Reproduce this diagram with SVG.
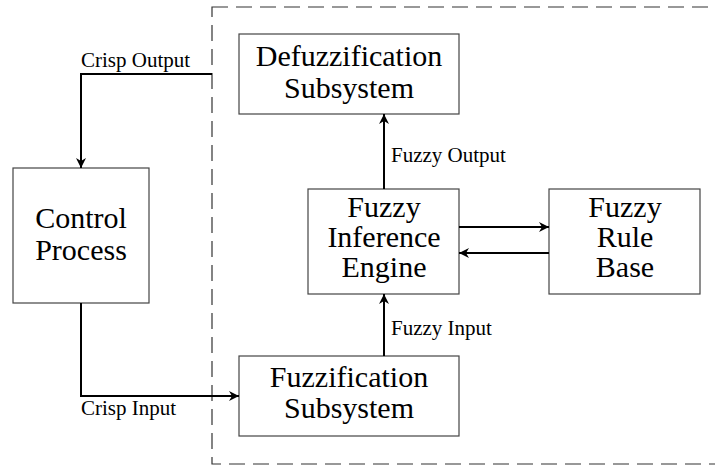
<svg xmlns="http://www.w3.org/2000/svg" width="715" height="465" viewBox="0 0 715 465">
<style>
.box{fill:#fff;stroke:#444;stroke-width:1.2}
.nt{font-family:'Liberation Serif','Times New Roman',serif;font-size:30px;fill:#000;text-anchor:middle}
.lb{font-family:'Liberation Serif','Times New Roman',serif;font-size:21px;fill:#000}
.c{fill:none;stroke:#000;stroke-width:2}
</style>
<defs>
<marker id="a" viewBox="0 0 10 10" refX="10" refY="5" markerWidth="5" markerHeight="5" orient="auto" markerUnits="strokeWidth">
<path d="M0,0 L10,5 L0,10 L3,5 z" fill="#000"/>
</marker>
</defs>
<rect x="212" y="7" width="520" height="457" fill="none" stroke="#333" stroke-width="1.2" stroke-dasharray="16 8"/>
<g id="defuzz"><rect class="box" x="239" y="34" width="220" height="80"/><text class="nt" x="349" y="66">Defuzzification</text><text class="nt" x="349" y="98">Subsystem</text></g>
<g id="control"><rect class="box" x="13" y="168" width="136" height="135"/><text class="nt" x="81" y="228">Control</text><text class="nt" x="81" y="260">Process</text></g>
<g id="engine"><rect class="box" x="308" y="189" width="151" height="105"/><text class="nt" x="384" y="217">Fuzzy</text><text class="nt" x="384" y="247">Inference</text><text class="nt" x="384" y="277">Engine</text></g>
<g id="rules"><rect class="box" x="549" y="189" width="151" height="105"/><text class="nt" x="625" y="217">Fuzzy</text><text class="nt" x="625" y="247">Rule</text><text class="nt" x="625" y="277">Base</text></g>
<g id="fuzz"><rect class="box" x="239" y="356" width="220" height="80"/><text class="nt" x="349" y="387">Fuzzification</text><text class="nt" x="349" y="418">Subsystem</text></g>
<g id="connectors">
<path class="c" d="M212,74 H81 V168" marker-end="url(#a)"/>
<path class="c" d="M81,303 V396 H239" marker-end="url(#a)"/>
<path class="c" d="M384,189 V114" marker-end="url(#a)"/>
<path class="c" d="M384,356 V294" marker-end="url(#a)"/>
<path class="c" d="M459,227 H549" marker-end="url(#a)"/>
<path class="c" d="M549,253 H459" marker-end="url(#a)"/>
<text class="lb" x="81" y="67">Crisp Output</text>
<text class="lb" x="391" y="162">Fuzzy Output</text>
<text class="lb" x="391" y="335">Fuzzy Input</text>
<text class="lb" x="81" y="415">Crisp Input</text>
</g>
</svg>
